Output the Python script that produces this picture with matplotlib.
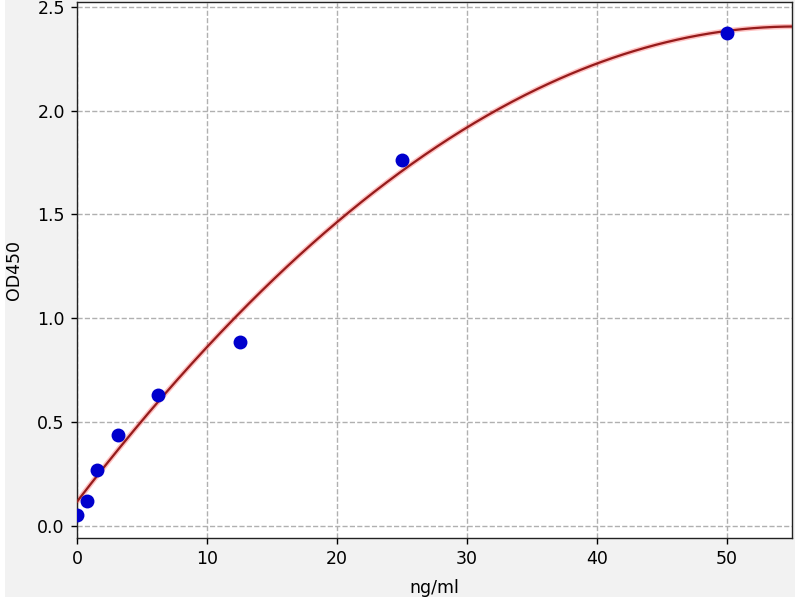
import numpy as np
import matplotlib
matplotlib.use("Agg")
import matplotlib.pyplot as plt
from matplotlib.patches import Rectangle

# Standard points
conc = [0.0, 0.78, 1.56, 3.125, 6.25, 12.5, 25.0, 50.0]
od450 = [0.053, 0.12, 0.27, 0.437, 0.632, 0.887, 1.76, 2.372]

# Fitted curve
curve_x = [0, 10, 13.6, 20, 26.4, 30, 40, 50, 55]
curve_y = [0.122, 0.849, 1.09, 1.475, 1.773, 1.922, 2.223, 2.375, 2.411]

x_ticks = [0, 10, 20, 30, 40, 50]
y_ticks = [0.0, 0.5, 1.0, 1.5, 2.0, 2.5]

# smooth curve through the read samples
coef = np.polyfit(curve_x, curve_y, 3)

fig = plt.figure(figsize=(6.4, 4.8), dpi=125, facecolor="white")
fig.patches.append(Rectangle((5 / 800, 0.005), 790 / 800, 0.995,
                             transform=fig.transFigure, facecolor="#f2f2f2",
                             edgecolor="none", zorder=-10))
ax = fig.add_axes([77 / 800, 62 / 600, 715 / 800, 536.3 / 600])
ax.set_facecolor("white")

xs = np.linspace(0, 55, 400)
ys = np.polyval(coef, xs)
ax.plot(xs, ys, color="#ff5050", linewidth=3.0, alpha=0.35, zorder=2)
ax.plot(xs, ys, color="#961c1c", linewidth=1.3, zorder=3)
ax.plot(conc, od450, "o", color="#0000cd", markersize=7, zorder=4)

ax.set_xlim(0, 55)
ax.set_ylim(-0.058, 2.524)
ax.set_xticks(x_ticks)
ax.set_yticks(y_ticks)
ax.grid(True, linestyle="--", color="#b0b0b0", linewidth=0.8)
ax.set_axisbelow(True)
ax.set_xlabel("ng/ml", labelpad=6.5)
ax.set_ylabel("OD450", labelpad=8.5)
for s in ax.spines.values():
    s.set_color("#222222")

fig.savefig("out.png", dpi=125, facecolor=fig.get_facecolor())
